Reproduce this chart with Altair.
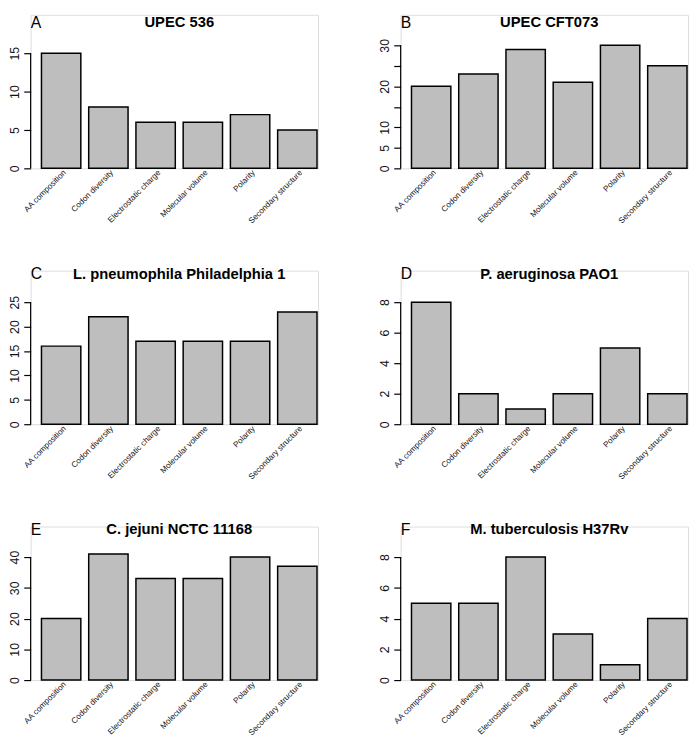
import altair as alt
import pandas as pd

categories = ["AA composition", "Codon diversity", "Electrostatic charge",
              "Molecular volume", "Polarity", "Secondary structure"]

letters = ["A", "B", "C", "D", "E", "F"]
titles = ["UPEC 536", "UPEC CFT073", "L. pneumophila Philadelphia 1",
          "P. aeruginosa PAO1", "C. jejuni NCTC 11168", "M. tuberculosis H37Rv"]

values_a = [15, 8, 6, 6, 7, 5]
values_b = [20, 23, 29, 21, 30, 25]
values_c = [16, 22, 17, 17, 17, 23]
values_d = [8, 2, 1, 2, 5, 2]
values_e = [20, 41, 33, 33, 40, 37]
values_f = [5, 5, 8, 3, 1, 4]
series = [values_a, values_b, values_c, values_d, values_e, values_f]

ticks_a = [0, 5, 10, 15]
ticks_b = [0, 5, 10, 15, 20, 25, 30]
ticks_c = [0, 5, 10, 15, 20, 25]
ticks_d = [0, 2, 4, 6, 8]
ticks_e = [0, 10, 20, 30, 40]
ticks_f = [0, 2, 4, 6, 8]
ticks = [ticks_a, ticks_b, ticks_c, ticks_d, ticks_e, ticks_f]

# tick labels R dropped because they would overlap
hidden_b = [15, 25]
hidden = [[], hidden_b, [], [], [], []]

# value reached at the top of each plot region
y_top = [16.41, 30.72, 25.81, 8.258, 40.96, 8.192]

FONT = "Liberation Sans"
W, H = 292, 156
ZERO, TOP = 156, 28
TITLE_Y = [0, -4, -4]
LETTER_Y = [0, -5, -4]


def panel(i):
    row = i // 2
    df = pd.DataFrame({"category": categories, "count": series[i]})
    yscale = alt.Scale(domain=[0, y_top[i]], range=[ZERO, TOP], nice=False, zero=False)
    if hidden[i]:
        lab_expr = "indexof(%s, datum.value) >= 0 ? '' : datum.label" % str(hidden[i])
    else:
        lab_expr = "datum.label"
    yaxis = alt.Axis(title=None, values=ticks[i], domain=False, grid=False,
                     tickSize=7, tickWidth=1.2, tickColor="black",
                     labelAngle=270, labelAlign="center", labelBaseline="bottom",
                     labelFontSize=12.5, labelColor="#111", labelPadding=2,
                     labelExpr=lab_expr, labelFont=FONT, labelOverlap=False)
    bars = alt.Chart(df).mark_bar(
        fill="#bebebe", stroke="black", strokeWidth=1.5
    ).encode(
        x=alt.X("category:N", sort=categories,
                scale=alt.Scale(paddingInner=1 / 6, paddingOuter=0.125, align=11 / 12),
                axis=alt.Axis(title=None, domain=False, ticks=False, tickSize=0,
                              labelAngle=315, labelAlign="right", labelBaseline="middle",
                              labelFontSize=8.2, labelColor="#111", labelPadding=3,
                              labelOffset=4, labelOverlap=False, labelFont=FONT)),
        y=alt.Y("count:Q", scale=yscale, axis=yaxis),
    )
    axis_df = pd.DataFrame({"lo": [ticks[i][0]], "hi": [ticks[i][-1]]})
    axis_line = alt.Chart(axis_df).mark_rule(color="black", strokeWidth=1.2).encode(
        x=alt.value(0),
        y=alt.Y("lo:Q", scale=yscale, axis=yaxis),
        y2="hi:Q",
    )
    tdf = pd.DataFrame({"title": [titles[i]], "letter": [letters[i]]})
    title = alt.Chart(tdf).mark_text(
        font=FONT, fontSize=15, fontWeight="bold", align="center",
        baseline="top", color="black"
    ).encode(x=alt.value(151), y=alt.value(TITLE_Y[row]), text="title:N")
    letter = alt.Chart(tdf).mark_text(
        font=FONT, fontSize=16, align="left", baseline="top", color="black"
    ).encode(x=alt.value(0), y=alt.value(LETTER_Y[row]), text="letter:N")
    return alt.layer(bars, axis_line, title, letter).properties(width=W, height=H)


chart = alt.concat(*[panel(i) for i in range(6)], columns=2,
                   spacing={"row": 104, "column": 84}, bounds="flush").properties(
    padding=0
).configure_view(stroke=None).configure(font=FONT)

chart.save("out.html", embed_options={"renderer": "svg", "actions": False})
